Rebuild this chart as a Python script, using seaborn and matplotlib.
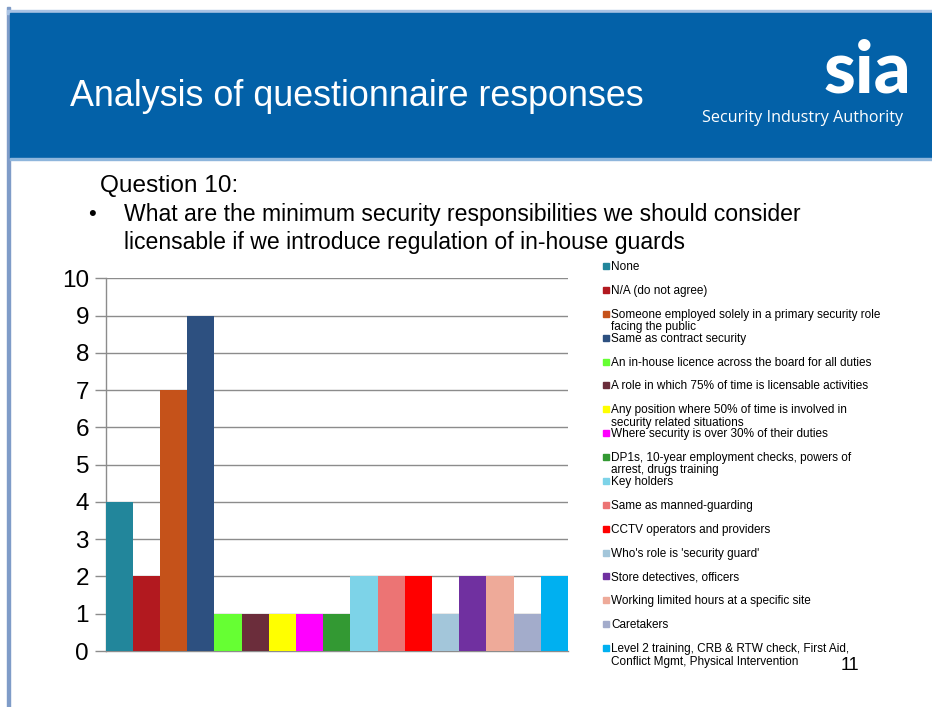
import matplotlib
matplotlib.use("Agg")
import matplotlib.pyplot as plt
from matplotlib.patches import Rectangle
import seaborn as sns
import pandas as pd

# Responses to question 10
categories = [
    "None",
    "N/A (do not agree)",
    "Someone employed solely in a primary security role\nfacing the public",
    "Same as contract security",
    "An in-house licence across the board for all duties",
    "A role in which 75% of time is licensable activities",
    "Any position where 50% of time is involved in\nsecurity related situations",
    "Where security is over 30% of their duties",
    "DP1s, 10-year employment checks, powers of\narrest, drugs training",
    "Key holders",
    "Same as manned-guarding",
    "CCTV operators and providers",
    "Who's role is 'security guard'",
    "Store detectives, officers",
    "Working limited hours at a specific site",
    "Caretakers",
    "Level 2 training, CRB & RTW check, First Aid,\nConflict Mgmt, Physical Intervention",
]
counts = [4, 2, 7, 9, 1, 1, 1, 1, 1, 2, 2, 2, 1, 2, 2, 1, 2]
colors = [
    "#22869b", "#b2191f", "#c5521a", "#2d5080", "#66ff33", "#6b2d3b",
    "#ffff00", "#ff00ff", "#339933", "#7dd3e8", "#ec7474", "#ff0000",
    "#a3c6da", "#7030a0", "#eeaa99", "#a3accb", "#00b0f0",
]
y_ticks = list(range(0, 11))

W, H = 932, 707
FONT = "Liberation Sans"

sns.set_theme(style="white")
plt.rcParams["font.family"] = [FONT, "DejaVu Sans"]

fig = plt.figure(figsize=(W / 100, H / 100), dpi=100)
fig.patch.set_facecolor("white")


def fx(x):
    return x / W


def fy(y):
    return 1 - y / H


# Slide frame and header band
fig.patches.append(Rectangle((fx(7), fy(707)), fx(3), 700 / H,
                             transform=fig.transFigure, color="#7f9cc8", zorder=0))
fig.patches.append(Rectangle((fx(7), fy(14)), 1, 4 / H,
                             transform=fig.transFigure, color="#a9c3e4", zorder=0))
fig.patches.append(Rectangle((fx(10), fy(158)), 1, 145 / H,
                             transform=fig.transFigure, color="#0361a8", zorder=1))
fig.patches.append(Rectangle((fx(10), fy(160)), 1, 2 / H,
                             transform=fig.transFigure, color="#8fb6dc", zorder=1))

fig.text(fx(70), fy(97), "Analysis of questionnaire responses", color="white",
         fontsize=25.8, ha="left", va="center", family=FONT)
fig.text(fx(867), fy(72), "sia", color="white", fontsize=52, fontweight="black",
         ha="center", va="center", family="Lato")
fig.text(fx(803), fy(118), "Security Industry Authority", color="white",
         fontsize=11.6, ha="center", va="center", family="Open Sans")

# Question text
fig.text(fx(100), fy(186), "Question 10:", fontsize=17.6, ha="left", va="center",
         color="black", family=FONT)
fig.text(fx(88), fy(215), "\u2022", fontsize=16, ha="left", va="center",
         color="black", family=FONT)
fig.text(fx(124), fy(215),
         "What are the minimum security responsibilities we should consider",
         fontsize=16.6, ha="left", va="center", color="black", family=FONT)
fig.text(fx(124), fy(242),
         "licensable if we introduce regulation of in-house guards",
         fontsize=16.6, ha="left", va="center", color="black", family=FONT)

# Bar chart
ax = fig.add_axes([fx(105.7), fy(651), (568 - 105.7) / W, (651 - 278.3) / H])
df = pd.DataFrame({"category": categories, "count": counts})
sns.barplot(data=df, x="category", y="count", hue="category", palette=colors,
            width=1.0, legend=False, ax=ax, saturation=1, linewidth=0, zorder=3)
ax.set_xlim(-0.5, len(categories) - 0.5)
ax.set_ylim(0, 10)
ax.set_yticks(y_ticks)
ax.set_yticklabels([str(t) for t in y_ticks], fontsize=17.5, family=FONT)
ax.set_xticks([])
ax.set_xlabel("")
ax.set_ylabel("")
ax.yaxis.grid(True, color="#8c8c8c", linewidth=1, zorder=0)
ax.set_axisbelow(True)
ax.tick_params(axis="y", length=8, width=1, color="#8c8c8c", pad=4,
               left=True, labelcolor="black")
for side in ("top", "right"):
    ax.spines[side].set_visible(False)
for side in ("left", "bottom"):
    ax.spines[side].set_color("#8c8c8c")
    ax.spines[side].set_linewidth(1)
ax.set_facecolor("white")

# Legend, drawn as a column of swatches with wrapped labels
y0, step, line_gap = 266, 23.875, 12.5
for i, (label, color) in enumerate(zip(categories, colors)):
    yc = y0 + i * step
    fig.patches.append(Rectangle((fx(603), fy(yc + 3)), 6 / W, 6 / H,
                                 transform=fig.transFigure, color=color, zorder=3))
    for j, line in enumerate(label.split("\n")):
        fig.text(fx(611), fy(yc + 4 + j * line_gap), line, fontsize=8.5,
                 ha="left", va="baseline", color="black", family=FONT)

# Slide number
fig.text(fx(850), fy(665), "11", fontsize=13, ha="center", va="center",
         color="black", family=FONT)

fig.savefig("out.png", dpi=100, facecolor="white")
